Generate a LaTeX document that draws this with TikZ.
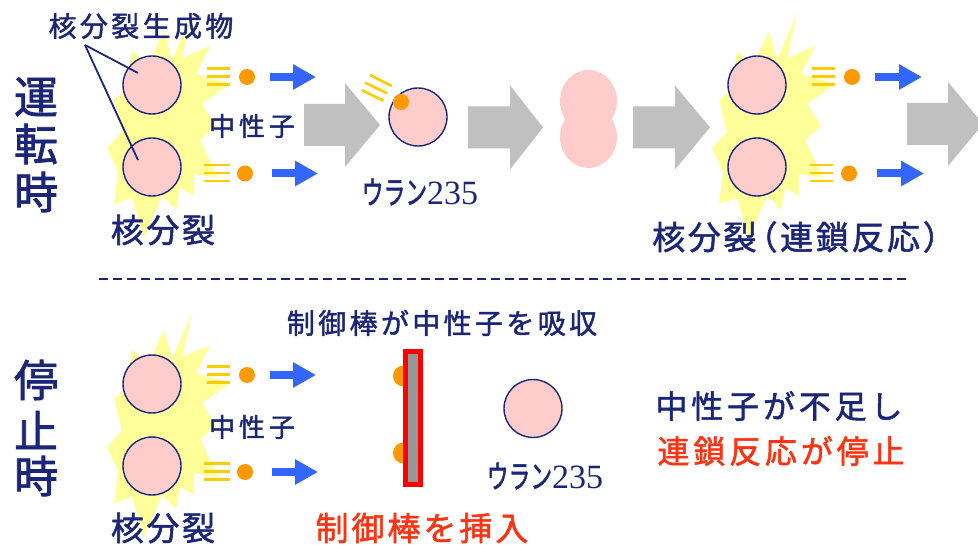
\documentclass[tikz,border=0pt]{standalone}
\usepackage{fontspec}
\usepackage{graphicx}
\usetikzlibrary{arrows.meta}
\newfontfamily\jp[FakeBold=1.6]{Noto Sans CJK JP}
\newfontfamily\digitfont{Liberation Serif}
\definecolor{navy}{RGB}{28,38,120}
\definecolor{nucpink}{RGB}{255,204,204}
\definecolor{burstcol}{RGB}{255,255,153}
\definecolor{raycol}{RGB}{255,204,0}
\definecolor{neutcol}{RGB}{255,153,0}
\definecolor{flowcol}{RGB}{51,102,255}
\definecolor{bigarrowcol}{RGB}{192,192,192}
\definecolor{alertcol}{RGB}{255,51,17}
\definecolor{rodgray}{RGB}{150,150,150}
\definecolor{rodred}{RGB}{255,0,0}

% font size with letter spacing
\newcommand\jpsz[2]{\fontsize{#1}{#1}\selectfont\addfontfeature{LetterSpace=#2}}

% yellow flash behind a pair of fission fragments, centred between them
\newcommand\flashat[2]{%
  \begin{scope}[shift={(#1,#2)}]
    \fill[burstcol] (40,-113) -- (30,-68) -- (58,-80) -- (44,-52) -- (78,-42)
      -- (50,-22) -- (64,0) -- (48,14) -- (66,52) -- (42,48) -- (42,70)
      -- (28,62) -- (24,84) -- (10,70) -- (-8,112) -- (-20,72) -- (-38,78)
      -- (-34,46) -- (-45,22) -- (-30,6) -- (-38,-26) -- (-26,-36)
      -- (-20,-75) -- (-4,-62) -- (12,-95) -- (20,-66) -- cycle;
  \end{scope}}

% emitted neutron: motion lines, the neutron and its direction arrow
% #1 name, #2/#3 line x range, #4 y, #5 neutron x, #6/#7 arrow x range
\newcommand\neutronmark[7]{%
  \foreach \d in {-8,0,8} \draw[rayline] (#2,#4+\d) -- (#3,#4+\d);
  \node[neutron] (#1) at (#5,#4+0.5) {};
  \coordinate (#1s) at (#6,#4+0.5);
  \coordinate (#1e) at (#7,#4+0.5);
  \draw[flowarrow] (#1s) -- (#1e);}

% broad grey process arrow: shaft start, head start, tip, centre y
\newcommand\bigarrow[4]{%
  \fill[bigarrowcol] (#1,#4-21) -- (#2,#4-21) -- (#2,#4-42) -- (#3,#4)
    -- (#2,#4+42) -- (#2,#4+21) -- (#1,#4+21) -- cycle;}

\begin{document}
\begin{tikzpicture}[x=1pt,y=-1pt,
  nucleus/.style={circle, fill=nucpink, draw=navy, line width=1.4, minimum size=58, inner sep=0},
  neutron/.style={circle, fill=neutcol, minimum size=16, inner sep=0},
  rayline/.style={draw=raycol, line width=2.6},
  flowarrow/.style={draw=flowcol, line width=8, -{Triangle[length=23, width=24]}},
  lbl/.style={inner sep=0, text=navy},
  alertlbl/.style={inner sep=0, text=alertcol},
  pointer/.style={draw=navy, line width=1.8},
  sepline/.style={draw=navy, line width=2, dash pattern=on 9 off 5}]

\path[use as bounding box] (0,0) rectangle (978,545);
\clip (0,0) rectangle (978,545);

% ---------------- operation ----------------
\flashat{152}{126}
\node[nucleus] (fa1) at (152,85) {};
\node[nucleus] (fa2) at (152,167) {};
\node[lbl, font={\jp\jpsz{28}{12}}] (prodlbl) at (141,26) {核分裂生成物};
\coordinate (ptr) at (85,45);
\draw[pointer] (ptr) -- (138,73);
\draw[pointer] (ptr) -- (138,160);

\node[lbl, font={\jp\fontsize{44}{44}\selectfont}] (op1) at (36,97) {運};
\node[lbl, font={\jp\fontsize{44}{44}\selectfont}] (op2) at (36,144) {転};
\node[lbl, font={\jp\fontsize{44}{44}\selectfont}] (op3) at (36,192) {時};

\neutronmark{na1}{207}{230}{76.5}{247}{270}{316}
\neutronmark{na2}{204}{230}{173}{245}{272}{318}
\node[lbl, font={\jp\jpsz{26}{15}}] (nlbl1) at (252,126) {中性子};
\node[lbl, font={\jp\jpsz{33}{8}}] (fis1) at (163,230) {核分裂};

\bigarrow{304}{345}{380}{125}

% incoming neutron striking U-235
\node[nucleus] (u1) at (418,117) {};
\draw[rayline] (370,75) -- (391.7,86);
\draw[rayline] (365,82.7) -- (387.3,93.3);
\draw[rayline] (361.7,90) -- (383.3,100.7);
\node[neutron] (nhit) at (401,102) {};
\node[lbl] (u1lbl) at (420,192)
  {\scalebox{0.68}[1]{\jp\fontsize{32}{32}\selectfont ウラン}\digitfont\fontsize{34}{34}\selectfont 235};

\bigarrow{468}{510}{543}{127.5}

% deforming nucleus
\fill[nucpink] (588.5,101) ellipse [x radius=28.5, y radius=31];
\fill[nucpink] (588.5,137) ellipse [x radius=28.5, y radius=31];

\bigarrow{633}{675}{710}{127.5}

\flashat{757}{126}
\node[nucleus] (fb1) at (757,85) {};
\node[nucleus] (fb2) at (757,167) {};
\neutronmark{nb1}{812}{835}{76.5}{852}{875}{922}
\neutronmark{nb2}{810}{833}{173}{849}{877}{924}
\node[lbl, font={\jp\jpsz{33}{8}}] (chain) at (804,237)
  {核分裂\kern-12pt（連鎖反応）};

\bigarrow{907}{948}{983}{124}

% separator
\draw[sepline] (99,279) -- (906,279);

% ---------------- shutdown ----------------
\node[lbl, font={\jp\fontsize{44}{44}\selectfont}] (st1) at (36,380) {停};
\node[lbl, font={\jp\fontsize{44}{44}\selectfont}] (st2) at (36,430) {止};
\node[lbl, font={\jp\fontsize{44}{44}\selectfont}] (st3) at (36,476) {時};

\flashat{152}{425}
\node[nucleus] (fc1) at (152,384) {};
\node[nucleus] (fc2) at (152,466) {};
\neutronmark{nc1}{207}{230}{374.5}{247}{270}{316}
\neutronmark{nc2}{204}{230}{471.5}{245}{272}{318}
\node[lbl, font={\jp\jpsz{26}{15}}] (nlbl2) at (252,427) {中性子};
\node[lbl, font={\jp\jpsz{33}{8}}] (fis2) at (163,528) {核分裂};

\node[lbl, font={\jp\jpsz{28}{12}}] (absorb) at (442,323) {制御棒が中性子を吸収};

% control rod with absorbed neutrons
\node[circle, fill=neutcol, minimum size=21, inner sep=0] (abs1) at (403.5,376) {};
\node[circle, fill=neutcol, minimum size=21, inner sep=0] (abs2) at (403.5,453) {};
\filldraw[fill=rodgray, draw=rodred, line width=5] (405.5,351.5) rectangle (420.5,484.5);
\node[alertlbl, font={\jp\jpsz{33}{9}}] (insert) at (422,528) {制御棒を挿入};

\node[nucleus] (u2) at (533,408.5) {};
\node[lbl] (u2lbl) at (545,476)
  {\scalebox{0.68}[1]{\jp\fontsize{32}{32}\selectfont ウラン}\digitfont\fontsize{34}{34}\selectfont 235};

\node[lbl, font={\jp\jpsz{32}{12}}] (lack) at (779,406) {中性子が不足し};
\node[alertlbl, font={\jp\jpsz{32}{12}}] (stop) at (781,451) {連鎖反応が停止};

\end{tikzpicture}
\end{document}
